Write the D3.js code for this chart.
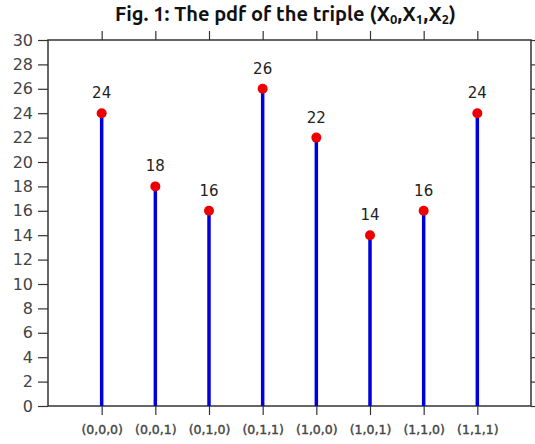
<!DOCTYPE html>
<html><head><meta charset="utf-8">
<script src="https://cdn.jsdelivr.net/npm/d3@7"></script>
<style>body{margin:0;background:#fff}svg{display:block}</style>
</head><body><svg id="c" width="535" height="444"></svg>
<script>
const categories = ["(0,0,0)","(0,0,1)","(0,1,0)","(0,1,1)","(1,0,0)","(1,0,1)","(1,1,0)","(1,1,1)"];
const values = [24,18,16,26,22,14,16,24];
const yTicks = d3.range(0,31,2);
const title = "Fig. 1: The pdf of the triple ";

const svg = d3.select("#c");
const m = {l:48, r:4, t:40, b:38};
const W = 535, H = 444;
const x = d3.scaleLinear().domain([0, categories.length+1]).range([m.l, W-m.r]);
const y = d3.scaleLinear().domain([0,30]).range([H-m.b, m.t]);
const font = "'DejaVu Sans', sans-serif";
const tfont = "'Ubuntu', 'Open Sans', 'DejaVu Sans', sans-serif";
const pos = categories.map((c,i)=>i+1);

// frame
svg.append("rect").attr("x",x(0)).attr("y",y(30)).attr("width",x(9)-x(0)).attr("height",y(0)-y(30))
  .attr("fill","none").attr("stroke","#333").attr("stroke-width",1.5);

function styleAxis(g){ g.select(".domain").remove(); g.selectAll(".tick line").attr("stroke","#333").attr("stroke-width",1.2); }

const yl = svg.append("g").attr("transform",`translate(${x(0)},0)`)
  .call(d3.axisLeft(y).tickValues(yTicks).tickSize(10).tickPadding(5));
styleAxis(yl);
yl.selectAll("text").attr("font-family",font).attr("font-size",16).attr("fill","#444");
const yr = svg.append("g").attr("transform",`translate(${x(9)},0)`)
  .call(d3.axisRight(y).tickValues(yTicks).tickSize(4).tickFormat(""));
styleAxis(yr);

const xb = svg.append("g").attr("transform",`translate(0,${y(0)})`)
  .call(d3.axisBottom(x).tickValues(pos).tickSize(9).tickPadding(10).tickFormat((d,i)=>categories[i]));
styleAxis(xb);
xb.selectAll("text").attr("font-family",font).attr("font-size",12.5).attr("fill","#444")
  .attr("stroke","#444").attr("stroke-width",0.4);
const xt = svg.append("g").attr("transform",`translate(0,${y(30)})`)
  .call(d3.axisTop(x).tickValues(pos).tickSize(9).tickFormat(""));
styleAxis(xt);

// stems
svg.selectAll(".stem").data(values).enter().append("line")
  .attr("x1",(d,i)=>x(i+1)).attr("x2",(d,i)=>x(i+1))
  .attr("y1",y(0)).attr("y2",d=>y(d))
  .attr("stroke","#0000dd").attr("stroke-width",3.5);
svg.selectAll(".dot").data(values).enter().append("circle")
  .attr("cx",(d,i)=>x(i+1)).attr("cy",d=>y(d)).attr("r",5).attr("fill","#ee0000");
svg.selectAll(".lab").data(values).enter().append("text")
  .attr("x",(d,i)=>x(i+1)).attr("y",d=>y(d)-15)
  .attr("text-anchor","middle").attr("font-family",font).attr("font-size",15).attr("fill","#222")
  .text(d=>d);

// title
const t = svg.append("text").attr("x",(x(0)+x(9))/2 - 4).attr("y",21).attr("text-anchor","middle")
  .attr("font-family",tfont).attr("font-weight","bold").attr("font-size",20).attr("fill","#111");
t.append("tspan").text(title+"(X");
t.append("tspan").attr("font-size",13).attr("dy",3).text("0");
t.append("tspan").attr("dy",-3).text(",X");
t.append("tspan").attr("font-size",13).attr("dy",3).text("1");
t.append("tspan").attr("dy",-3).text(",X");
t.append("tspan").attr("font-size",13).attr("dy",3).text("2");
t.append("tspan").attr("dy",-3).text(")");
</script></body></html>
